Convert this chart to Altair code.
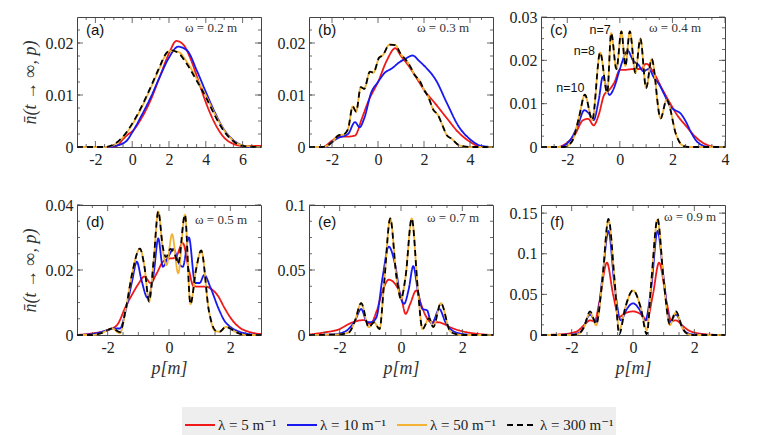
import altair as alt
import pandas as pd
import numpy as np

SERIES = ["λ = 5 m⁻¹", "λ = 10 m⁻¹", "λ = 50 m⁻¹", "λ = 300 m⁻¹"]
COLORS = ["#f01818", "#1818f0", "#f2b233", "#000000"]
DASHES = [[1, 0], [1, 0], [1, 0], [6, 4]]
WIDTHS = [1.8, 1.8, 2.6, 2.0]

# ---------------- panel (a) ----------------
A_RED_P = [-3, -1.2, -0.8, -0.5, -0.2, 0, 0.5, 1, 1.5, 2, 2.4, 2.8, 3.2, 3.6, 4, 4.5, 5, 5.5, 6, 6.3, 7]
A_RED_N = [0, 0, 0.0003, 0.0015, 0.0025, 0.003, 0.0055, 0.009, 0.0135, 0.018, 0.0204, 0.0196, 0.0167, 0.0127, 0.0086, 0.0045, 0.0018, 0.0006, 0.0002, 0.0002, 0.0002]
A_BLUE_P = [-3, -1.2, -0.8, -0.5, -0.3, 0, 0.5, 1, 1.5, 2, 2.5, 3, 3.5, 4, 4.5, 5, 5.5, 6, 6.5, 7]
A_BLUE_N = [0, 0, 0.0003, 0.0007, 0.0012, 0.0028, 0.006, 0.0095, 0.0135, 0.0172, 0.0193, 0.0185, 0.0148, 0.0106, 0.0066, 0.0033, 0.0013, 0.0003, 0, 0]
A_ORANGE_P = [-3, -1.5, -1, -0.5, 0, 0.5, 1, 1.5, 1.8, 2.1, 2.5, 3, 3.5, 4, 4.5, 5, 5.5, 6, 7]
A_ORANGE_N = [0, 0, 0.0004, 0.0019, 0.0043, 0.0075, 0.0113, 0.0153, 0.0176, 0.0185, 0.0183, 0.0162, 0.0132, 0.0099, 0.0063, 0.0032, 0.0012, 0.0003, 0]
A_BLACK_P = [-3, -1.5, -1, -0.5, 0, 0.5, 1, 1.5, 1.8, 2.1, 2.5, 3, 3.5, 4, 4.5, 5, 5.5, 6, 7]
A_BLACK_N = [0, 0, 0.0005, 0.002, 0.0045, 0.0077, 0.0115, 0.0155, 0.0178, 0.0186, 0.0181, 0.0158, 0.0128, 0.0096, 0.006, 0.003, 0.0011, 0.0002, 0]

# ---------------- panel (b) ----------------
B_RED_P = [-3, -2.4, -2, -1.7, -1.3, -1, -0.7, -0.4, 0, 0.4, 0.75, 1, 1.3, 1.6, 2, 2.5, 3, 3.5, 4, 4.5, 5]
B_RED_N = [0, 0, 0.0012, 0.002, 0.002, 0.0022, 0.0055, 0.009, 0.0125, 0.0168, 0.019, 0.0175, 0.0158, 0.0138, 0.011, 0.0083, 0.0055, 0.0028, 0.001, 0, 0]
B_BLUE_P = [-3, -2.3, -2, -1.7, -1.3, -1.0, -0.8, -0.6, -0.3, 0, 0.3, 0.6, 0.9, 1.2, 1.5, 1.8, 2.1, 2.5, 3, 3.5, 4, 4.5, 5]
B_BLUE_N = [0, 0, 0.001, 0.0018, 0.0025, 0.0048, 0.0038, 0.0055, 0.0104, 0.0125, 0.0143, 0.0151, 0.0162, 0.017, 0.0176, 0.0165, 0.0152, 0.013, 0.0084, 0.004, 0.0015, 0.0002, 0]
B_BLACK_P = [-3, -2.4, -2, -1.7, -1.5, -1.3, -1.1, -0.95, -0.75, -0.6, -0.35, -0.2, 0.05, 0.2, 0.5, 0.75, 1.0, 1.2, 1.4, 1.6, 1.8, 2.0, 2.2, 2.4, 2.6, 2.8, 3.0, 3.2, 3.5, 4, 5]
B_BLACK_N = [0, 0, 0.0009, 0.0023, 0.0024, 0.0035, 0.0078, 0.0068, 0.0115, 0.0112, 0.0145, 0.0143, 0.0172, 0.0176, 0.0197, 0.0196, 0.0178, 0.0168, 0.0155, 0.0138, 0.0128, 0.011, 0.0095, 0.0072, 0.0062, 0.0042, 0.0022, 0.0016, 0.0004, 0, 0]
B_ORANGE_P = B_BLACK_P
B_ORANGE_N = B_BLACK_N

# ---------------- panel (c) ----------------
C_RED_P = [-3, -2.4, -2, -1.7, -1.4, -1.2, -1.0, -0.8, -0.6, -0.4, -0.2, 0, 0.2, 0.5, 0.8, 1.0, 1.3, 1.6, 1.9, 2.2, 2.5, 2.8, 3.1, 3.4, 3.7, 4]
C_RED_N = [0, 0, 0.001, 0.003, 0.0062, 0.0065, 0.005, 0.0075, 0.012, 0.0132, 0.015, 0.0178, 0.0178, 0.018, 0.018, 0.0192, 0.017, 0.0135, 0.0102, 0.0072, 0.005, 0.0028, 0.0012, 0.0003, 0, 0]
C_BLUE_P = [-3, -2.3, -1.9, -1.6, -1.35, -1.15, -1.0, -0.8, -0.65, -0.5, -0.4, -0.2, 0, 0.3, 0.5, 0.7, 0.9, 1.1, 1.3, 1.5, 1.7, 1.9, 2.1, 2.3, 2.5, 2.7, 2.9, 3.1, 3.4, 4]
C_BLUE_N = [0, 0, 0.0015, 0.005, 0.0085, 0.0075, 0.0062, 0.011, 0.0162, 0.0135, 0.012, 0.014, 0.018, 0.0222, 0.02, 0.019, 0.0175, 0.018, 0.016, 0.0144, 0.012, 0.0095, 0.0085, 0.0078, 0.006, 0.0035, 0.0015, 0.0005, 0, 0]
C_BLACK_P = [-3, -2.1, -1.8, -1.55, -1.33, -1.05, -0.75, -0.48, -0.33, -0.13, 0.06, 0.21, 0.38, 0.59, 0.78, 1.0, 1.21, 1.55, 1.78, 2.15, 2.35, 2.6, 4]
C_BLACK_N = [0, 0, 0.0015, 0.007, 0.0121, 0.0062, 0.0218, 0.0125, 0.0263, 0.018, 0.0267, 0.0187, 0.0267, 0.0171, 0.025, 0.0136, 0.0203, 0.0066, 0.0109, 0.0027, 0.0005, 0, 0]
C_ORANGE_P = C_BLACK_P
C_ORANGE_N = C_BLACK_N
C_NOTE_P = [-1.88, -1.35, -0.75]
C_NOTE_N = [0.0136, 0.0222, 0.0270]
C_NOTE_T = ["n=10", "n=8", "n=7"]

# ---------------- panel (d) ----------------
D_RED_P = [-3, -2.5, -2, -1.7, -1.4, -1.2, -1.0, -0.8, -0.6, -0.4, -0.2, 0, 0.2, 0.45, 0.65, 0.8, 1.0, 1.2, 1.4, 1.6, 1.8, 2.0, 2.3, 2.6, 3]
D_RED_N = [0, 0.0005, 0.0015, 0.003, 0.009, 0.0125, 0.0157, 0.018, 0.016, 0.019, 0.0225, 0.0235, 0.0237, 0.0283, 0.02, 0.015, 0.0149, 0.0149, 0.014, 0.012, 0.0085, 0.0054, 0.0023, 0.001, 0.0003]
D_BLUE_P = [-3, -2.5, -2, -1.8, -1.6, -1.4, -1.2, -1.05, -0.9, -0.7, -0.5, -0.35, -0.2, -0.05, 0.15, 0.3, 0.45, 0.65, 0.85, 1.0, 1.15, 1.35, 1.6, 1.8, 2.0, 2.3, 2.6, 3]
D_BLUE_N = [0, 0.0003, 0.0015, 0.002, 0.002, 0.008, 0.0167, 0.0226, 0.017, 0.0115, 0.0188, 0.0297, 0.021, 0.0235, 0.0265, 0.0225, 0.021, 0.030, 0.016, 0.016, 0.0185, 0.0147, 0.0085, 0.0045, 0.0025, 0.001, 0.0003, 0]
D_ORANGE_P = [-3, -2.5, -2.2, -1.85, -1.6, -1.4, -1.2, -0.95, -0.8, -0.65, -0.5, -0.35, -0.2, -0.08, 0.1, 0.3, 0.52, 0.7, 0.88, 1.05, 1.3, 1.5, 1.65, 1.85, 2.2, 2.5, 3]
D_ORANGE_N = [0, 0, 0.0006, 0.002, 0.0005, 0.0085, 0.019, 0.0266, 0.021, 0.0103, 0.023, 0.038, 0.026, 0.0215, 0.031, 0.019, 0.037, 0.0095, 0.02, 0.026, 0.0075, 0.0012, 0.001, 0.0025, 0.0008, 0, 0]
D_BLACK_P = [-3, -2.5, -2.2, -1.85, -1.6, -1.4, -1.2, -0.95, -0.8, -0.65, -0.5, -0.35, -0.2, -0.1, 0.05, 0.18, 0.3, 0.52, 0.7, 0.88, 1.05, 1.3, 1.5, 1.65, 1.85, 2.2, 2.5, 3]
D_BLACK_N = [0, 0, 0.0006, 0.002, 0.0009, 0.0085, 0.019, 0.0266, 0.021, 0.0103, 0.023, 0.038, 0.027, 0.024, 0.0265, 0.025, 0.022, 0.037, 0.0095, 0.02, 0.026, 0.0075, 0.0015, 0.001, 0.0025, 0.0008, 0, 0]

# ---------------- panel (e) ----------------
E_RED_P = [-3, -2.5, -2.0, -1.7, -1.4, -1.2, -1.0, -0.8, -0.6, -0.4, -0.2, 0, 0.15, 0.3, 0.5, 0.65, 0.8, 1.0, 1.2, 1.4, 1.6, 1.9, 2.3, 2.7, 3]
E_RED_N = [0.0003, 0.002, 0.0046, 0.0085, 0.011, 0.0115, 0.0085, 0.018, 0.034, 0.0425, 0.0395, 0.030, 0.0162, 0.024, 0.0343, 0.024, 0.015, 0.0098, 0.0098, 0.0085, 0.006, 0.0035, 0.0015, 0.0004, 0]
E_BLUE_P = [-3, -2.2, -1.8, -1.5, -1.3, -1.1, -0.95, -0.8, -0.6, -0.4, -0.2, 0, 0.1, 0.25, 0.4, 0.55, 0.7, 0.85, 1.0, 1.25, 1.45, 1.7, 2.0, 2.5, 3]
E_BLUE_N = [0, 0.0005, 0.003, 0.011, 0.02, 0.0098, 0.01, 0.0137, 0.0445, 0.068, 0.055, 0.028, 0.024, 0.035, 0.053, 0.034, 0.02, 0.019, 0.0085, 0.02, 0.0098, 0.003, 0.0008, 0, 0]
E_BLACK_P = [-3, -2.0, -1.7, -1.5, -1.3, -1.05, -0.88, -0.7, -0.55, -0.35, -0.15, 0, 0.15, 0.35, 0.55, 0.7, 0.92, 1.05, 1.3, 1.6, 1.8, 2.0, 3]
E_BLACK_N = [0, 0.0005, 0.002, 0.011, 0.0245, 0.006, 0.0098, 0.0046, 0.04, 0.0897, 0.045, 0.028, 0.045, 0.0897, 0.035, 0.0046, 0.013, 0.006, 0.0245, 0.003, 0.0007, 0, 0]
E_ORANGE_P = E_BLACK_P
E_ORANGE_N = E_BLACK_N

# ---------------- panel (f) ----------------
F_RED_P = [-3, -2.3, -2.0, -1.8, -1.6, -1.4, -1.25, -1.1, -0.85, -0.65, -0.45, -0.3, 0, 0.3, 0.45, 0.65, 0.85, 1.1, 1.25, 1.4, 1.6, 1.8, 2.0, 2.3, 2.6, 3]
F_RED_N = [0, 0.001, 0.0025, 0.005, 0.012, 0.018, 0.017, 0.04, 0.089, 0.05, 0.022, 0.026, 0.029, 0.024, 0.018, 0.05, 0.089, 0.04, 0.017, 0.018, 0.012, 0.006, 0.003, 0.0012, 0.0003, 0]
F_BLUE_P = [-3, -2.0, -1.7, -1.4, -1.2, -1.0, -0.8, -0.6, -0.4, -0.2, 0, 0.2, 0.4, 0.6, 0.8, 1.0, 1.2, 1.4, 1.7, 2.0, 3]
F_BLUE_N = [0, 0.0005, 0.004, 0.025, 0.016, 0.07, 0.128, 0.06, 0.018, 0.032, 0.039, 0.032, 0.018, 0.06, 0.128, 0.07, 0.016, 0.025, 0.004, 0.0005, 0]
F_BLACK_P = [-3, -2.0, -1.8, -1.6, -1.4, -1.2, -1.0, -0.8, -0.6, -0.45, -0.25, 0, 0.25, 0.45, 0.6, 0.8, 1.0, 1.2, 1.4, 1.6, 1.8, 2.0, 3]
F_BLACK_N = [0, 0, 0.001, 0.0095, 0.029, 0.0135, 0.067, 0.143, 0.067, 0.001, 0.034, 0.055, 0.034, 0.001, 0.067, 0.143, 0.067, 0.0135, 0.029, 0.0095, 0.001, 0, 0]
F_ORANGE_P = F_BLACK_P
F_ORANGE_N = [0, 0, 0.001, 0.0095, 0.028, 0.012, 0.067, 0.142, 0.067, 0.006, 0.034, 0.055, 0.034, 0.006, 0.067, 0.142, 0.067, 0.012, 0.028, 0.0095, 0.001, 0, 0]

PANEL_LABELS = ["(a)", "(b)", "(c)", "(d)", "(e)", "(f)"]
OMEGA_LABELS = ["ω = 0.2 m", "ω = 0.3 m", "ω = 0.4 m", "ω = 0.5 m", "ω = 0.7 m", "ω = 0.9 m"]
X_DOMAINS = [[-3, 7], [-3, 5], [-3, 4], [-3, 3], [-3, 3], [-3, 3]]
Y_DOMAINS = [[0, 0.025], [0, 0.025], [0, 0.03], [0, 0.04], [0, 0.1], [0, 0.16]]
X_TICKS = [[-2, 0, 2, 4, 6], [-2, 0, 2, 4], [-2, 0, 2, 4], [-2, 0, 2], [-2, 0, 2], [-2, 0, 2]]
Y_TICKS = [[0, 0.01, 0.02], [0, 0.01, 0.02], [0, 0.01, 0.02, 0.03], [0, 0.02, 0.04],
           [0, 0.05, 0.1], [0, 0.05, 0.1, 0.15]]

CURVES = [
    [(A_RED_P, A_RED_N), (A_BLUE_P, A_BLUE_N), (A_ORANGE_P, A_ORANGE_N), (A_BLACK_P, A_BLACK_N)],
    [(B_RED_P, B_RED_N), (B_BLUE_P, B_BLUE_N), (B_ORANGE_P, B_ORANGE_N), (B_BLACK_P, B_BLACK_N)],
    [(C_RED_P, C_RED_N), (C_BLUE_P, C_BLUE_N), (C_ORANGE_P, C_ORANGE_N), (C_BLACK_P, C_BLACK_N)],
    [(D_RED_P, D_RED_N), (D_BLUE_P, D_BLUE_N), (D_ORANGE_P, D_ORANGE_N), (D_BLACK_P, D_BLACK_N)],
    [(E_RED_P, E_RED_N), (E_BLUE_P, E_BLUE_N), (E_ORANGE_P, E_ORANGE_N), (E_BLACK_P, E_BLACK_N)],
    [(F_RED_P, F_RED_N), (F_BLUE_P, F_BLUE_N), (F_ORANGE_P, F_ORANGE_N), (F_BLACK_P, F_BLACK_N)],
]

W, H = 184, 130
LAB_Y = [13, 13, 13, 17, 17, 17]
OM_RIGHT = [24, 24, 24, 14, 14, 9]
OM_Y = [11, 11, 11, 15, 13, 12]
SERIF = "Liberation Serif, DejaVu Serif, Times New Roman, serif"
SANS = "Liberation Sans, Arial, sans-serif"
FRAME = "#444444"


def tick_rules(vals, field, scale, axis, length, side):
    d = pd.DataFrame({field: vals})
    base = alt.Chart(d).mark_rule(color=FRAME, strokeWidth=0.8)
    if field == "p":
        enc = dict(x=alt.X("p:Q", scale=scale, axis=axis))
        if side == "bottom":
            enc.update(y=alt.value(H), y2=alt.value(H - length))
        else:
            enc.update(y=alt.value(0), y2=alt.value(length))
    else:
        enc = dict(y=alt.Y("n:Q", scale=scale, axis=axis))
        if side == "left":
            enc.update(x=alt.value(0), x2=alt.value(length))
        else:
            enc.update(x=alt.value(W - length), x2=alt.value(W))
    return base.encode(**enc)


panels = []
for i in range(6):
    rows = []
    for name, (xs, ys) in zip(SERIES, CURVES[i]):
        for xv, yv in zip(xs, ys):
            rows.append({"p": xv, "n": yv, "s": name})
    df = pd.DataFrame(rows)
    xdom, ydom = X_DOMAINS[i], Y_DOMAINS[i]
    xscale = alt.Scale(domain=xdom, nice=False, zero=False)
    yscale = alt.Scale(domain=ydom, nice=False, zero=False)
    xaxis = alt.Axis(values=X_TICKS[i], labelExpr="'' + datum.value", labelFlush=False,
                     title="p[m]" if i >= 3 else None)
    yaxis = alt.Axis(values=Y_TICKS[i], format="~g", labelFlush=False,
                     title="n̄(t → ∞, p)" if i in (0, 3) else None)
    lines = alt.Chart(df).mark_line(interpolate="monotone").encode(
        x=alt.X("p:Q", scale=xscale, axis=xaxis),
        y=alt.Y("n:Q", scale=yscale, axis=yaxis),
        color=alt.Color("s:N", scale=alt.Scale(domain=SERIES, range=COLORS), legend=alt.Legend(title=None)),
        strokeDash=alt.StrokeDash("s:N", scale=alt.Scale(domain=SERIES, range=DASHES), legend=alt.Legend(title=None)),
        strokeWidth=alt.StrokeWidth("s:N", scale=alt.Scale(domain=SERIES, range=WIDTHS), legend=None),
    )
    xstep = 0.5
    ystep = (Y_TICKS[i][1] - Y_TICKS[i][0]) / 4
    xminor = [v for v in np.arange(xdom[0] + xstep, xdom[1], xstep) if v not in X_TICKS[i]]
    yminor = [round(v, 5) for v in np.arange(ystep, ydom[1], ystep)]
    layers = [lines]
    for side in ("bottom", "top"):
        layers.append(tick_rules(X_TICKS[i], "p", xscale, xaxis, 6, side))
        layers.append(tick_rules(xminor, "p", xscale, xaxis, 3, side))
    for side in ("left", "right"):
        layers.append(tick_rules(Y_TICKS[i], "n", yscale, yaxis, 6, side))
        layers.append(tick_rules(yminor, "n", yscale, yaxis, 3, side))
    lab = alt.Chart(pd.DataFrame({"t": [PANEL_LABELS[i]]})).mark_text(
        font=SANS, fontSize=15, align="left", baseline="middle", color="#111"
    ).encode(text="t:N", x=alt.value(9), y=alt.value(LAB_Y[i]))
    om = alt.Chart(pd.DataFrame({"t": [OMEGA_LABELS[i]]})).mark_text(
        font=SERIF, fontSize=13, align="right", baseline="middle", color="#333"
    ).encode(text="t:N", x=alt.value(W - OM_RIGHT[i]), y=alt.value(OM_Y[i]))
    layers += [lab, om]
    if i == 2:
        notes = pd.DataFrame({"p": C_NOTE_P, "n": C_NOTE_N, "t": C_NOTE_T})
        layers.append(alt.Chart(notes).mark_text(font=SANS, fontSize=12.5, color="#111").encode(
            x=alt.X("p:Q", scale=xscale, axis=xaxis),
            y=alt.Y("n:Q", scale=yscale, axis=yaxis),
            text="t:N"))
    panels.append(alt.layer(*layers).properties(width=W, height=H))

chart = alt.concat(
    *panels, columns=3, spacing={"row": 58, "column": 48}, bounds="flush"
).resolve_scale(
    x="independent", y="independent", color="shared", strokeDash="shared", strokeWidth="shared"
).properties(
    padding={"left": 12, "top": 0, "right": 5, "bottom": 5}
).configure_view(
    stroke=FRAME, strokeWidth=1
).configure_axis(
    grid=False, ticks=False, domain=False,
    labelFont=SERIF, labelFontSize=16, labelColor="#222",
    titleFont=SERIF, titleFontSize=18, titleFontStyle="italic", titleFontWeight="normal", titleColor="#333"
).configure_axisX(
    labelPadding=4, titlePadding=4
).configure_axisY(
    labelPadding=4, titlePadding=6
).configure_legend(
    orient="none", legendX=105, legendY=390, direction="horizontal",
    fillColor="#eeeeee", padding=2, symbolType="stroke", symbolSize=900, symbolStrokeWidth=2,
    labelFont=SERIF, labelFontSize=15, labelColor="#222", columnPadding=6, labelOffset=2, labelLimit=0
)

chart.save("out.html", embed_options={"renderer": "svg", "actions": False})
